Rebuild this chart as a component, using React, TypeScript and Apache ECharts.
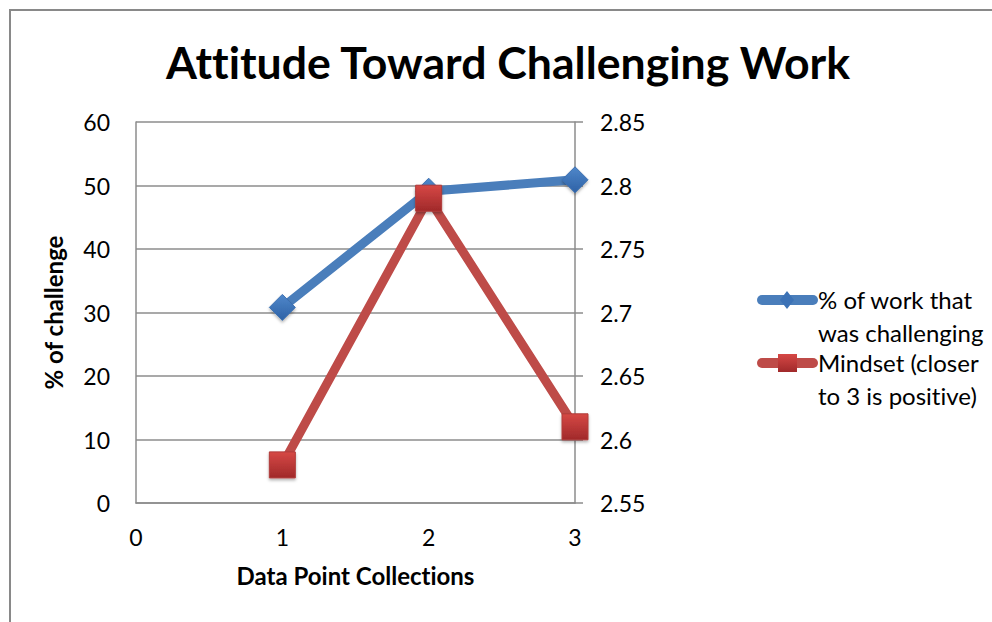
import React, { useEffect, useRef } from "react";
import * as echarts from "echarts";

const collections = [1, 2, 3];
const pctChallenging = [30.8, 49.1, 50.9];
const mindset = [2.58, 2.79, 2.61];
const seriesNames = ["% of work that\nwas challenging", "Mindset (closer\nto 3 is positive)"];
const titleText = "Attitude Toward Challenging Work";
const xName = "Data Point Collections";
const yName = "% of challenge";

const FONT = "Lato";
const GRID = "#8c8c8c";

export default function App() {
  const ref = useRef<HTMLDivElement>(null);
  useEffect(() => {
    document.body.style.margin = "0";
    const st = document.createElement("style");
    st.textContent = "svg text { font-variant-ligatures: none; font-feature-settings: 'liga' 0; }";
    document.head.appendChild(st);
    const chart = echarts.init(ref.current!, null, { renderer: "svg" });
    const blueLine = "#4A7EBB";
    const redLine = "#BE4B48";
    const blueMarker = new echarts.graphic.LinearGradient(0, 0, 0, 1, [
      { offset: 0, color: "#4F87CA" },
      { offset: 1, color: "#2E62A6" },
    ]);
    const redMarker = new echarts.graphic.LinearGradient(0, 0, 0, 1, [
      { offset: 0, color: "#D64845" },
      { offset: 1, color: "#A0292A" },
    ]);
    chart.setOption({
      animation: false,
      backgroundColor: "#ffffff",
      textStyle: { fontFamily: FONT },
      title: {
        text: titleText,
        left: 503,
        textAlign: "center",
        top: 34,
        textStyle: { fontFamily: FONT, fontWeight: "bold", fontSize: 44.6, color: "#000" },
      },
      grid: { left: 136, right: 417, top: 122, bottom: 119, containLabel: false },
      xAxis: {
        type: "value",
        min: 0,
        max: 3,
        interval: 1,
        name: xName,
        nameLocation: "middle",
        nameGap: 60,
        nameTextStyle: { fontFamily: FONT, fontWeight: "bold", fontSize: 24, color: "#000" },
        axisLine: { show: true, lineStyle: { color: GRID, width: 1.5 } },
        axisTick: { show: false },
        splitLine: { show: false },
        axisLabel: { margin: 22, fontSize: 23, color: "#000", fontFamily: FONT },
      },
      yAxis: [
        {
          type: "value",
          min: 0,
          max: 60,
          interval: 10,
          position: "left",
          name: yName,
          nameLocation: "middle",
          nameGap: 71,
          nameRotate: 90,
          nameTextStyle: { fontFamily: FONT, fontWeight: "bold", fontSize: 24, color: "#000" },
          axisLine: { show: true, lineStyle: { color: GRID, width: 1.5 } },
          axisTick: { show: false },
          splitLine: { show: true, lineStyle: { color: GRID, width: 1.5 } },
          axisLabel: { margin: 26, fontSize: 23, color: "#000", fontFamily: FONT },
        },
        {
          type: "value",
          min: 2.55,
          max: 2.85,
          interval: 0.05,
          position: "right",
          axisLine: { show: true, lineStyle: { color: GRID, width: 1.5 } },
          axisTick: { show: true, inside: false, length: 8, lineStyle: { color: GRID, width: 1.5 } },
          splitLine: { show: false },
          axisLabel: {
            margin: 25,
            fontSize: 23,
            color: "#000",
            fontFamily: FONT,
            formatter: (v: number) => String(+v.toFixed(2)),
          },
        },
      ],
      series: [
        {
          name: seriesNames[0],
          type: "line",
          yAxisIndex: 0,
          data: collections.map((c, i) => [c, pctChallenging[i]]),
          symbol: "diamond",
          symbolSize: 26,
          lineStyle: { color: blueLine, width: 9 },
          itemStyle: { color: blueMarker, borderColor: "#3C6FB0", borderWidth: 1, shadowColor: "rgba(0,0,0,0.3)", shadowBlur: 3, shadowOffsetY: 2 },
        },
        {
          name: seriesNames[1],
          type: "line",
          yAxisIndex: 1,
          data: collections.map((c, i) => [c, mindset[i]]),
          symbol: "rect",
          symbolSize: 26,
          lineStyle: { color: redLine, width: 9 },
          itemStyle: { color: redMarker, borderColor: "#B03C3A", borderWidth: 1, shadowColor: "rgba(0,0,0,0.3)", shadowBlur: 3, shadowOffsetY: 2 },
        },
      ],
      graphic: [
        {
          type: "rect",
          shape: { x: 10, y: 10, width: 1200, height: 900 },
          style: { fill: "none", stroke: "#898989", lineWidth: 2 },
          silent: true,
        },
        {
          type: "line",
          shape: { x1: 762, y1: 300, x2: 813, y2: 300 },
          style: { stroke: blueLine, lineWidth: 10, lineCap: "round" },
        },
        {
          type: "polygon",
          shape: { points: [[787, 291], [794, 300], [787, 309], [780, 300]] },
          style: { fill: "#3C72B6" },
        },
        {
          type: "text",
          left: 818,
          top: 283,
          style: {
            text: seriesNames[0],
            fontFamily: FONT,
            fontSize: 24,
            lineHeight: 33,
            fill: "#000",
          },
        },
        {
          type: "line",
          shape: { x1: 762, y1: 363, x2: 813, y2: 363 },
          style: { stroke: redLine, lineWidth: 10, lineCap: "round" },
        },
        {
          type: "rect",
          shape: { x: 778, y: 354, width: 19, height: 18 },
          style: { fill: redMarker },
        },
        {
          type: "text",
          left: 818,
          top: 346,
          style: {
            text: seriesNames[1],
            fontFamily: FONT,
            fontSize: 24,
            lineHeight: 33,
            fill: "#000",
          },
        },
      ],
    });
    return () => {
      chart.dispose();
      st.remove();
    };
  }, []);
  return <div ref={ref} style={{ width: 992, height: 622 }} />;
}
